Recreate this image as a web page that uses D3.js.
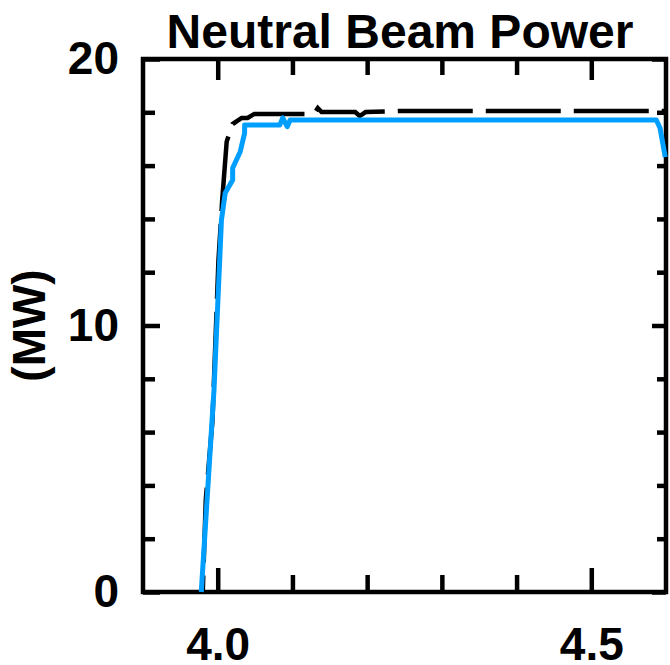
<!DOCTYPE html>
<html>
<head>
<meta charset="utf-8">
<script src="https://cdn.jsdelivr.net/npm/d3@7"></script>
<style>
body { margin: 0; background: #fff; }
text { font-family: "Liberation Sans", Arial, sans-serif; font-weight: bold; }
</style>
</head>
<body>
<script>
// Reference shot (black, dashed): time (s) and injected power (MW)
var timeA  = [3.980, 3.984, 3.993, 4.001, 4.006, 4.012, 4.020, 4.032, 4.040, 4.049,
              4.129, 4.134, 4.139, 4.184, 4.190, 4.198, 4.244, 4.600];
var powerA = [0.0, 3.45, 6.45, 12.45, 14.7, 16.9, 17.56, 17.79, 17.79, 17.94,
              17.94, 18.16, 18.01, 18.01, 17.86, 18.01, 18.05, 18.05];

// Comparison shot (blue, solid)
var timeB  = [3.978, 3.995, 4.005, 4.010, 4.020, 4.020, 4.030, 4.036, 4.036, 4.083,
              4.087, 4.093, 4.097, 4.587, 4.592, 4.599];
var powerB = [0.0, 7.58, 13.96, 14.97, 15.46, 15.91, 16.51, 17.22, 17.52, 17.52,
              17.79, 17.46, 17.71, 17.71, 17.41, 16.32];

var xMajor = [4.0, 4.5];
var xMinor = [4.1, 4.2, 4.3, 4.4];
var yMajor = [0, 10, 20];
var yMinor = [2, 4, 6, 8, 12, 14, 16, 18];

var titleText = "Neutral Beam Power";
var yTitle = "(MW)";

function init() {
    var w = 670, h = 665;
    var plotLeft = 143, plotRight = 666, plotTop = 59, plotBottom = 592;

    var svg = d3.select("body").append("svg")
        .attr("width", w)
        .attr("height", h);

    var x = d3.scaleLinear().domain([3.9, 4.6]).range([plotLeft, plotRight]);
    var y = d3.scaleLinear().domain([0, 20]).range([plotBottom, plotTop]);

    // ticks point inward on all four sides
    function styleAxis(g) {
        g.select(".domain").remove();
        g.selectAll("line").attr("stroke", "#000").attr("stroke-width", 4.5);
        g.selectAll("text").attr("fill", "#000").style("font-size", "46px");
    }

    function addAxis(axis, tx, ty) {
        svg.append("g")
            .attr("transform", "translate(" + tx + "," + ty + ")")
            .call(axis)
            .call(styleAxis);
    }

    addAxis(d3.axisBottom(x).tickValues(xMajor).tickSize(-24).tickPadding(35).tickFormat(d3.format(".1f")), 0, plotBottom);
    addAxis(d3.axisBottom(x).tickValues(xMinor).tickSize(-17).tickFormat(""), 0, plotBottom);
    addAxis(d3.axisTop(x).tickValues(xMajor).tickSize(-21).tickFormat(""), 0, plotTop);
    addAxis(d3.axisTop(x).tickValues(xMinor).tickSize(-16).tickFormat(""), 0, plotTop);

    addAxis(d3.axisLeft(y).tickValues(yMajor).tickSize(-17).tickPadding(24), plotLeft, 0);
    addAxis(d3.axisLeft(y).tickValues(yMinor).tickSize(-12).tickFormat(""), plotLeft, 0);
    addAxis(d3.axisRight(y).tickValues(yMajor).tickSize(-14).tickFormat(""), plotRight, 0);
    addAxis(d3.axisRight(y).tickValues(yMinor).tickSize(-9).tickFormat(""), plotRight, 0);

    // plot frame
    svg.append("rect")
        .attr("x", plotLeft)
        .attr("y", plotTop)
        .attr("width", plotRight - plotLeft)
        .attr("height", plotBottom - plotTop)
        .attr("fill", "none")
        .attr("stroke", "#000")
        .attr("stroke-width", 4.5);

    var lineA = d3.line()
        .x(function(i) { return x(timeA[i]); })
        .y(function(i) { return y(powerA[i]); });
    var lineB = d3.line()
        .x(function(i) { return x(timeB[i]); })
        .y(function(i) { return y(powerB[i]); });

    svg.append("path")
        .datum(d3.range(timeA.length))
        .attr("d", lineA)
        .attr("fill", "none")
        .attr("stroke", "#000")
        .attr("stroke-width", 4.5)
        .attr("stroke-dasharray", "75,13")
        .attr("stroke-dashoffset", 58.5);

    svg.append("path")
        .datum(d3.range(timeB.length))
        .attr("d", lineB)
        .attr("fill", "none")
        .attr("stroke", "#009fff")
        .attr("stroke-width", 5)
        .attr("stroke-linejoin", "round");

    svg.append("text")
        .attr("x", 400)
        .attr("y", 48)
        .attr("text-anchor", "middle")
        .style("font-size", "48px")
        .text(titleText);

    svg.append("text")
        .attr("transform", "translate(45," + y(10) + ") rotate(-90)")
        .attr("text-anchor", "middle")
        .style("font-size", "46px")
        .text(yTitle);
}

window.onload = init;
</script>
</body>
</html>
